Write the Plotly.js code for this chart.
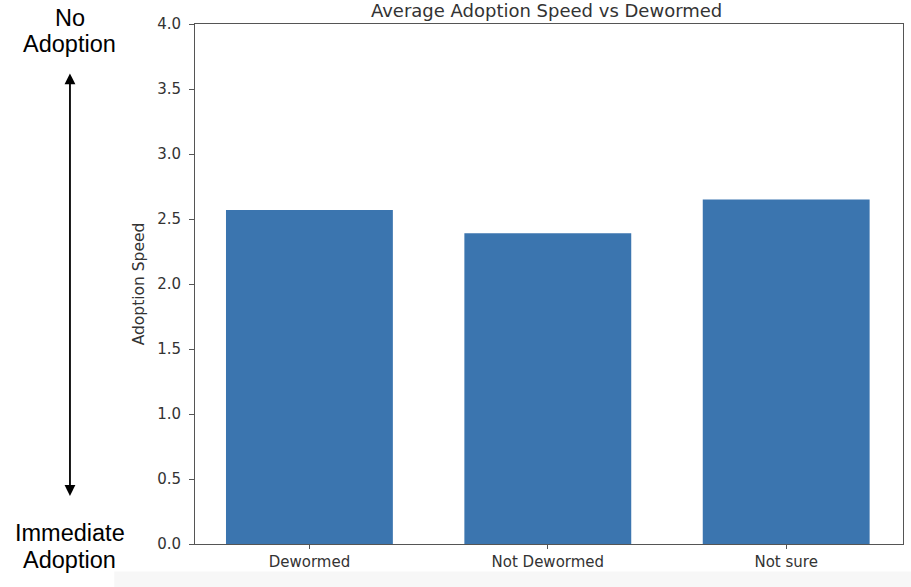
<!DOCTYPE html>
<html>
<head>
<meta charset="utf-8">
<script src="https://cdn.plot.ly/plotly-3.0.1.min.js"></script>
<style>html,body{margin:0;padding:0;background:#fff;}#chart{width:911px;height:587px;}</style>
</head>
<body>
<div id="chart"></div>
<script>
const categories = ["Dewormed", "Not Dewormed", "Not sure"];
const adoptionSpeed = [2.57, 2.39, 2.65];
const yTickValues = [0.0, 0.5, 1.0, 1.5, 2.0, 2.5, 3.0, 3.5, 4.0];
const yTickLabels = ["0.0", "0.5", "1.0", "1.5", "2.0", "2.5", "3.0", "3.5", "4.0"];

const trace = {
  type: "bar",
  x: categories.map((c, i) => i),
  y: adoptionSpeed,
  width: 0.7,
  marker: {color: "#3b75af", line: {width: 0}},
  hoverinfo: "skip"
};

const axisFont = {family: "DejaVu Sans", size: 15, color: "#333"};
const noteFont = {family: "Liberation Sans", size: 23.5, color: "#000"};

const layout = {
  width: 911, height: 587,
  margin: {l: 195, r: 8, t: 24, b: 43, pad: 0},
  paper_bgcolor: "#ffffff",
  plot_bgcolor: "#ffffff",
  showlegend: false,
  title: {
    text: "Average Adoption Speed vs Dewormed",
    font: {family: "DejaVu Sans", size: 18, color: "#333"},
    x: 0.6, xanchor: "center", y: 0.982, yanchor: "middle"
  },
  xaxis: {
    range: [-0.48, 2.49],
    tickmode: "array",
    tickvals: categories.map((c, i) => i),
    ticktext: categories,
    ticks: "outside", ticklen: 4, tickcolor: "#555", tickwidth: 1,
    showline: true, linecolor: "#555", linewidth: 1, mirror: true,
    showgrid: false, zeroline: false,
    tickfont: axisFont,
    fixedrange: true
  },
  yaxis: {
    range: [0, 4.0],
    tickmode: "array",
    tickvals: yTickValues,
    ticktext: yTickLabels,
    ticks: "outside", ticklen: 5, tickcolor: "#555", tickwidth: 1,
    ticklabelstandoff: 5,
    showline: true, linecolor: "#555", linewidth: 1, mirror: true,
    showgrid: false, zeroline: false,
    tickfont: axisFont,
    title: {text: "Adoption Speed", font: {family: "DejaVu Sans", size: 15.5, color: "#333"}, standoff: 8},
    fixedrange: true
  },
  shapes: [
    {type: "rect", xref: "paper", yref: "paper", x0: -0.114, x1: 1.02, y0: -0.083, y1: -0.053,
     fillcolor: "#f7f7f7", line: {width: 0}, layer: "below"}
  ],
  annotations: [
    {xref: "paper", yref: "paper", x: -0.1766, y: 1.0115, text: "No", showarrow: false,
     font: noteFont, xanchor: "center", yanchor: "middle"},
    {xref: "paper", yref: "paper", x: -0.1766, y: 0.9615, text: "Adoption", showarrow: false,
     font: noteFont, xanchor: "center", yanchor: "middle"},
    {xref: "paper", yref: "paper", x: -0.1766, y: 0.0212, text: "Immediate", showarrow: false,
     font: noteFont, xanchor: "center", yanchor: "middle"},
    {xref: "paper", yref: "paper", x: -0.1766, y: -0.0308, text: "Adoption", showarrow: false,
     font: noteFont, xanchor: "center", yanchor: "middle"},
    {xref: "paper", yref: "paper", x: -0.1766, y: 0.905, text: "", showarrow: true,
     ax: 0, ay: 424, arrowside: "end+start", arrowhead: 2, arrowsize: 1.2, arrowwidth: 1.8, arrowcolor: "#000"}
  ]
};

Plotly.newPlot("chart", [trace], layout, {displayModeBar: false, staticPlot: true});
</script>
</body>
</html>
